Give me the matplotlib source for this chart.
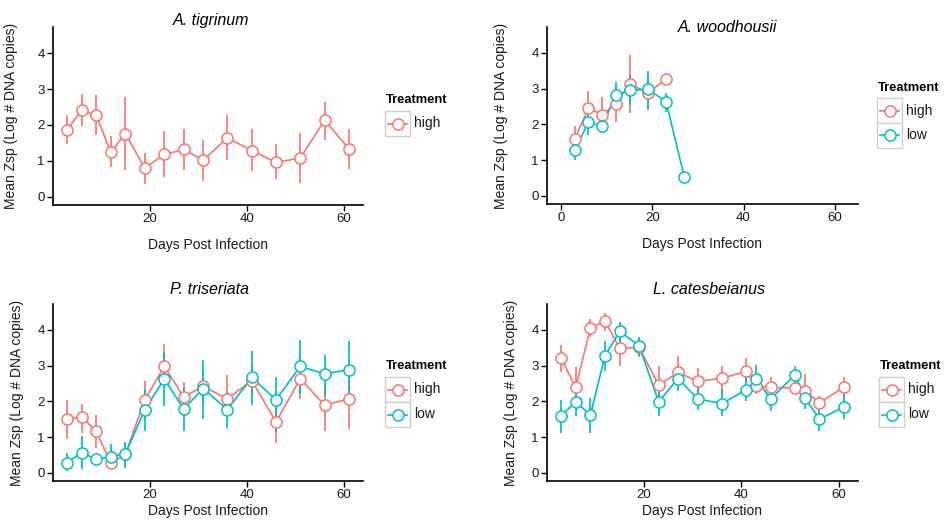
import numpy as np
import matplotlib.pyplot as plt
from matplotlib.lines import Line2D
from matplotlib.patches import Rectangle

plt.rcParams['font.family'] = ['Liberation Sans', 'DejaVu Sans']

W, H = 949, 523
HIGH_COL = '#F8766D'
LOW_COL = '#00BFC4'

days15 = [3, 6, 9, 12, 15, 19, 23, 27, 31, 36, 41, 46, 51, 56, 61]

# A. tigrinum (high only)
tig_high = [1.87, 2.41, 2.27, 1.24, 1.76, 0.80, 1.18, 1.32, 1.02, 1.64, 1.29, 0.96, 1.08, 2.13, 1.34]
tig_high_lo = [1.46, 1.96, 1.71, 0.82, 0.75, 0.37, 0.54, 0.75, 0.43, 1.03, 0.71, 0.49, 0.39, 1.59, 0.78]
tig_high_hi = [2.27, 2.85, 2.83, 1.68, 2.77, 1.21, 1.82, 1.90, 1.59, 2.27, 1.88, 1.46, 1.78, 2.64, 1.90]

# A. woodhousii
woo_days_high = [3, 6, 9, 12, 15, 19, 23]
woo_high = [1.59, 2.46, 2.27, 2.58, 3.14, 2.88, 3.27]
woo_high_lo = [1.35, 2.04, 1.76, 2.08, 2.32, 2.41, np.nan]
woo_high_hi = [1.96, 2.93, 2.77, 3.07, 3.95, 3.36, np.nan]
woo_days_low = [3, 6, 9, 12, 15, 19, 23, 27]
woo_low = [1.29, 2.06, 1.96, 2.83, 2.95, 2.99, 2.64, 0.54]
woo_low_lo = [1.01, 1.71, 1.76, 2.46, 2.55, 2.43, 2.36, np.nan]
woo_low_hi = [1.66, 2.36, 2.32, 3.20, 3.39, 3.50, 2.88, np.nan]

# P. triseriata
tri_high = [1.50, 1.57, 1.16, 0.27, 0.52, 2.05, 2.98, 2.13, 2.42, 2.07, 2.58, 1.43, 2.63, 1.90, 2.07]
tri_high_lo = [0.94, 1.13, 0.71, 0.10, 0.20, 1.52, 2.49, 1.79, 1.97, 1.60, 2.11, 0.85, 2.07, 1.18, 1.24]
tri_high_hi = [2.05, 1.94, 1.63, 0.50, 0.85, 2.58, 3.61, 2.55, 2.81, 2.74, 3.00, 1.93, 3.26, 2.49, 2.79]
tri_low = [0.29, 0.57, 0.38, 0.46, 0.54, 1.77, 2.63, 1.79, 2.36, 1.77, 2.67, 2.05, 2.98, 2.77, 2.89]
tri_low_lo = [0.05, 0.10, 0.28, 0.10, 0.15, 1.18, 1.88, 1.18, 1.52, 1.27, 1.90, 1.15, 2.21, 2.16, 2.02]
tri_low_hi = [0.55, 1.04, 0.48, 0.82, 0.87, 2.35, 3.39, 2.39, 3.17, 2.27, 3.42, 2.67, 3.73, 3.30, 3.70]

# L. catesbeianus
cat_days = [3, 6, 9, 12, 15, 19, 23, 27, 31, 36, 41, 43, 46, 51, 53, 56, 61]
cat_high = [3.21, 2.39, 4.05, 4.24, 3.49, 3.51, 2.46, 2.81, 2.56, 2.65, 2.84, 2.44, 2.39, 2.38, 2.30, 1.97, 2.39]
cat_high_lo = [2.81, 1.93, 3.79, 3.98, 2.98, 3.23, 1.99, 2.42, 2.18, 2.21, 2.51, 2.20, 2.11, 2.26, 1.97, 1.74, 2.07]
cat_high_hi = [3.58, 2.95, 4.31, 4.47, 3.98, 3.75, 2.98, 3.26, 2.93, 2.98, 3.21, 2.70, 2.67, 2.50, 2.77, 2.16, 2.67]
cat_low = [1.60, 1.99, 1.62, 3.28, 3.96, 3.56, 1.99, 2.64, 2.07, 1.94, 2.33, 2.63, 2.07, 2.75, 2.11, 1.50, 1.85]
cat_low_lo = [1.11, 1.58, 1.13, 2.86, 3.61, 3.28, 1.58, 2.30, 1.77, 1.58, 2.02, 2.25, 1.74, 2.49, 1.79, 1.18, 1.52]
cat_low_hi = [2.05, 2.39, 2.11, 3.70, 4.23, 3.79, 2.44, 3.00, 2.39, 2.35, 2.70, 3.02, 2.39, 2.98, 2.44, 1.88, 2.21]


def fx(x):
    return x / W


def fy(y):
    return 1 - y / H


def add_axes(fig, left, top, right, bottom):
    return fig.add_axes([fx(left), fy(bottom), (right - left) / W, (bottom - top) / H])


def draw_series(ax, days, mean, lo, hi, col, z):
    ax.vlines(days, lo, hi, color=col, lw=1.25, zorder=z)
    ax.plot(days, mean, color=col, lw=1.2, zorder=z + 2)
    ax.plot(days, mean, ls='none', marker='o', ms=8, mfc='white', mec=col, mew=1.1, zorder=z + 4)


def style_axes(ax, xlim, xticks, ylab_x):
    ax.set_xlim(*xlim)
    ax.set_ylim(-0.225, 4.725)
    ax.set_xticks(xticks)
    ax.set_yticks([0, 1, 2, 3, 4])
    for s in ['top', 'right']:
        ax.spines[s].set_visible(False)
    for s in ['left', 'bottom']:
        ax.spines[s].set_linewidth(1.2)
    ax.tick_params(length=4, width=1.0, labelsize=9.5, labelcolor='#1a1a1a', pad=2)
    ax.set_xlabel('Days Post Infection', fontsize=10, color='#1a1a1a')
    ax.set_ylabel('Mean Zsp (Log # DNA copies)', fontsize=10, color='#1a1a1a')
    ax.yaxis.set_label_coords(ylab_x, 0.5)


def draw_legend(fig, x0, ytitle, ybox, labels, cols):
    fig.text(fx(x0 + 1), fy(ytitle), 'Treatment', fontsize=9.3, fontweight='bold',
             va='center', ha='left')
    for i, (lab, col) in enumerate(zip(labels, cols)):
        top = ybox + i * 25
        fig.add_artist(Rectangle((fx(x0), fy(top + 25)), 25 / W, 25 / H, transform=fig.transFigure,
                                 fc='white', ec='#cfcfcf', lw=1.0))
        yc = fy(top + 12.5)
        fig.add_artist(Line2D([fx(x0 + 3), fx(x0 + 22)], [yc, yc], transform=fig.transFigure,
                              color=col, lw=1.2))
        fig.add_artist(Line2D([fx(x0 + 12.5)], [yc], transform=fig.transFigure, ls='none',
                              marker='o', ms=8, mfc='white', mec=col, mew=1.1))
        fig.text(fx(x0 + 29), yc, lab, fontsize=10, va='center', ha='left', color='#1a1a1a')


fig = plt.figure(figsize=(W / 100, H / 100), dpi=100)

# top left
ax1 = add_axes(fig, 53, 27, 363, 205)
draw_series(ax1, days15, tig_high, tig_high_lo, tig_high_hi, HIGH_COL, 2)
style_axes(ax1, (0.1, 63.9), [20, 40, 60], -0.113)
ax1.xaxis.labelpad = 9
fig.text(fx(211), fy(21), 'A. tigrinum', fontsize=11.5, style='italic', ha='center', va='center')
draw_legend(fig, 385, 100, 111, ['high'], [HIGH_COL])

# top right
ax2 = add_axes(fig, 547, 27, 858, 204)
draw_series(ax2, woo_days_high, woo_high, woo_high_lo, woo_high_hi, HIGH_COL, 2)
draw_series(ax2, woo_days_low, woo_low, woo_low_lo, woo_low_hi, LOW_COL, 3)
style_axes(ax2, (-3.1, 65.1), [0, 20, 40, 60], -0.126)
ax2.xaxis.labelpad = 9
fig.text(fx(727), fy(27), 'A. woodhousii', fontsize=11.5, style='italic', ha='center', va='center')
draw_legend(fig, 877, 88, 98, ['high', 'low'], [HIGH_COL, LOW_COL])

# bottom left
ax3 = add_axes(fig, 53, 304, 363, 481)
draw_series(ax3, days15, tri_high, tri_high_lo, tri_high_hi, HIGH_COL, 2)
draw_series(ax3, days15, tri_low, tri_low_lo, tri_low_hi, LOW_COL, 3)
style_axes(ax3, (0.1, 63.9), [20, 40, 60], -0.094)
ax3.xaxis.labelpad = 2
fig.text(fx(210), fy(289), 'P. triseriata', fontsize=11.5, style='italic', ha='center', va='center')
draw_legend(fig, 385, 366, 377, ['high', 'low'], [HIGH_COL, LOW_COL])

# bottom right
ax4 = add_axes(fig, 547, 304, 858, 481)
draw_series(ax4, cat_days, cat_high, cat_high_lo, cat_high_hi, HIGH_COL, 2)
draw_series(ax4, cat_days, cat_low, cat_low_lo, cat_low_hi, LOW_COL, 3)
style_axes(ax4, (0.1, 63.9), [20, 40, 60], -0.094)
ax4.xaxis.labelpad = 2
fig.text(fx(709), fy(289), 'L. catesbeianus', fontsize=11.5, style='italic', ha='center', va='center')
draw_legend(fig, 879, 366, 377, ['high', 'low'], [HIGH_COL, LOW_COL])

fig.savefig('out.png', dpi=100)
